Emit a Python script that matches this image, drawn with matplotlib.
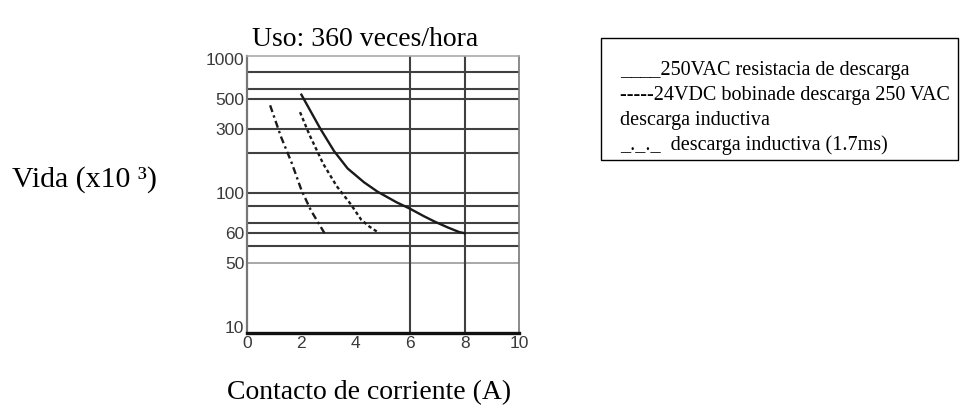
import numpy as np
import matplotlib
matplotlib.use("Agg")
import matplotlib.pyplot as plt
from matplotlib.patches import Rectangle

# Curve data (current A, life x10^3)
solid_x = [2.0, 2.7, 3.2, 3.7, 4.3, 4.8, 5.5, 6.0, 6.5, 6.9, 7.4, 7.8, 8.0]
solid_y = [540, 300, 205, 152, 120, 102, 85, 76, 67, 61, 55, 51, 50]

dashed_x = [1.95, 2.3, 2.8, 3.3, 3.8, 4.2, 4.5, 4.8]
dashed_y = [400, 270, 165, 112, 83, 63, 56, 51]

dashdot_x = [0.85, 1.25, 1.65, 2.0, 2.35, 2.85]
dashdot_y = [450, 262, 166, 105, 74, 50]

# Axis ticks and grid
x_ticks = [0, 2, 4, 6, 8, 10]
y_ticks = [1000, 500, 300, 100, 50, 30, 10]
y_tick_labels = ["1000", "500", "300", "100", "60", "50", "10"]
hgrid = [800, 600, 500, 300, 200, 100, 80, 60, 50, 40]
hgrid_light = [30]
vgrid = [6, 8]

legend_lines = [
    "____250VAC resistacia de descarga",
    "-----24VDC bobinade descarga 250 VAC",
    "descarga inductiva",
    "_._._  descarga inductiva (1.7ms)",
]

serif = ["Liberation Serif", "DejaVu Serif"]

fig = plt.figure(figsize=(9.72, 4.11), dpi=100)
W, H = 972, 411

# axes placed in pixel coords of the reference
left, right, top, bottom = 247, 519, 56, 333
ax = fig.add_axes([left / W, 1 - bottom / H, (right - left) / W, (bottom - top) / H])
ax.set_yscale("log")
ax.set_xlim(0, 10)
ax.set_ylim(9, 1050)

for y in hgrid:
    ax.axhline(y, color="#404040", lw=1.5, zorder=1)
for y in hgrid_light:
    ax.axhline(y, color="#9a9a9a", lw=1.2, zorder=1)
for x in vgrid:
    ax.axvline(x, color="#404040", lw=1.5, zorder=1)

ax.plot(solid_x, solid_y, color="#1a1a1a", lw=1.7, zorder=3)
ax.plot(dashed_x, dashed_y, color="#1a1a1a", lw=1.7, ls=(0, (1.5, 1.2)), zorder=3)
ax.plot(dashdot_x, dashdot_y, color="#1a1a1a", lw=1.7, ls=(0, (3, 1.5, 1, 1.5)), zorder=3)

ax.spines["left"].set_color("#777777")
ax.spines["left"].set_linewidth(1.6)
ax.spines["right"].set_color("#777777")
ax.spines["right"].set_linewidth(1.2)
ax.spines["top"].set_color("#aaaaaa")
ax.spines["top"].set_linewidth(1.2)
ax.spines["bottom"].set_color("#111111")
ax.spines["bottom"].set_linewidth(2.4)

ax.set_xticks(x_ticks)
ax.set_xticklabels([str(v) for v in x_ticks])
ax.yaxis.set_minor_locator(matplotlib.ticker.NullLocator())
ax.set_yticks(y_ticks)
ax.set_yticklabels(y_tick_labels)
ax.tick_params(length=0, labelsize=12.5, labelcolor="#3a3a3a", pad=2)
for lab in ax.get_xticklabels() + ax.get_yticklabels():
    lab.set_family("Liberation Sans")

# surrounding document text
fig.text(365 / W, 1 - 40 / H, "Uso: 360 veces/hora", ha="center", va="center",
         family=serif, fontsize=20)
fig.text(227 / W, 1 - 393 / H, "Contacto de corriente (A)", ha="left", va="center",
         family=serif, fontsize=20)
fig.text(12 / W, 1 - 180 / H, "Vida (x10 \u00b3)", ha="left", va="center",
         family=serif, fontsize=21.5)

# legend box
bx0, bx1, by0, by1 = 601, 958, 38, 160
fig.patches.append(Rectangle((bx0 / W, 1 - by1 / H), (bx1 - bx0) / W, (by1 - by0) / H,
                             transform=fig.transFigure, fill=False, ec="black", lw=1.0))
for i, line in enumerate(legend_lines):
    fig.text(620 / W, 1 - (70 + 25 * i) / H, line, ha="left", va="center",
             family=serif, fontsize=14.5)

fig.savefig("out.png", dpi=100)
